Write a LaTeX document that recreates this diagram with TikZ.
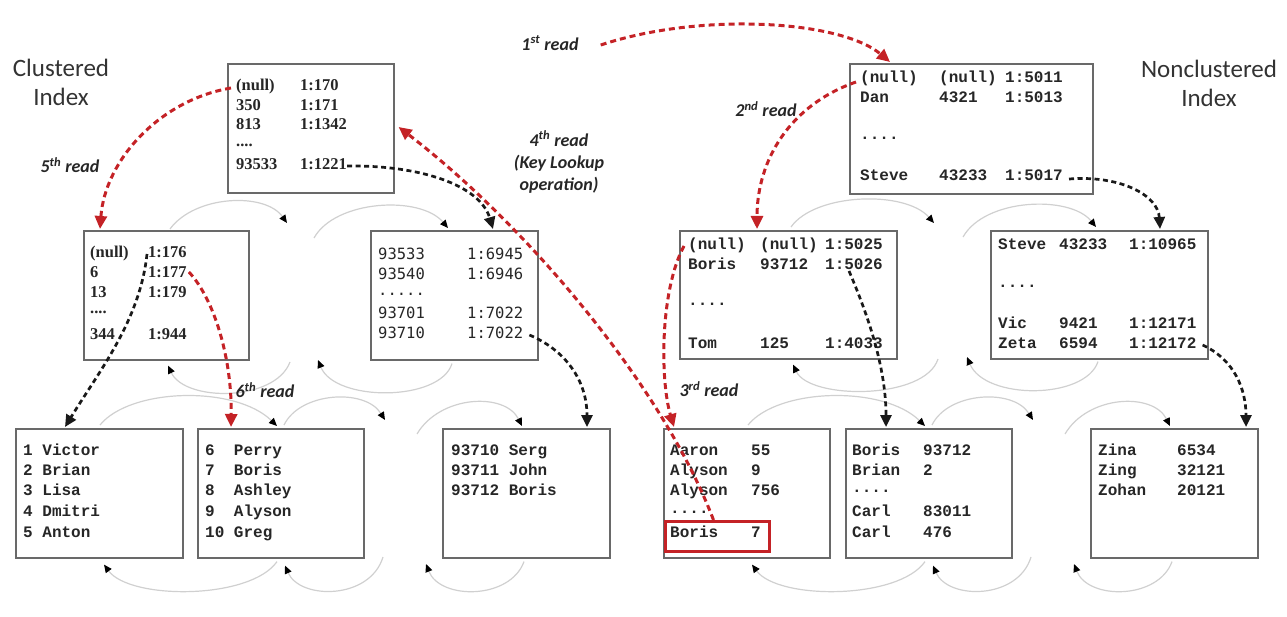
\documentclass[tikz,border=0pt]{standalone}
\usepackage{fontspec}
\setmainfont{Carlito}
\newfontfamily\cour{Liberation Mono}
\newfontfamily\serf{Liberation Serif}
\newfontfamily\dmono{DejaVu Sans Mono}
\usetikzlibrary{arrows.meta,calc}
\definecolor{rd}{RGB}{196,34,38}
\definecolor{bxc}{RGB}{105,105,105}
\definecolor{arcg}{RGB}{208,208,208}
\newcommand\cc[2]{\makebox[#1][l]{#2}}
\begin{document}
\begin{tikzpicture}[x=1pt,y=-1pt,
  box/.style={draw=bxc, line width=1.6pt, anchor=north west, inner sep=0pt},
  rowc/.style={anchor=west, inner sep=0pt, text height=0.7em, text depth=0pt,
    font=\cour\bfseries\fontsize{16}{18}\selectfont, text=black!85},
  rows/.style={rowc, font=\serf\bfseries\fontsize{16.5}{18}\selectfont},
  rowd/.style={rowc, font=\dmono\fontsize{15.5}{18}\selectfont, text=black!85},
  lbl/.style={font=\bfseries\itshape\fontsize{18}{20}\selectfont, text=black!85, inner sep=0pt},
  ttl/.style={font=\fontsize{25}{29}\selectfont, text=black!80, align=center, inner sep=0pt},
  rda/.style={draw=rd, line width=3pt, dash pattern=on 6pt off 4pt, -{Triangle[length=13pt,width=12pt]}},
  bka/.style={draw=black!90, line width=2.7pt, dash pattern=on 5pt off 3.5pt, -{Triangle[length=12pt,width=11pt]}},
  garc/.style={draw=arcg, line width=1.2pt, -{Triangle[length=8pt,width=7pt,color=black]}}
]
\useasboundingbox (0,0) rectangle (1287,617);

% ---------- boxes ----------
\node[box,minimum width=166pt,minimum height=129pt] (cr)  at (227,63) {};
\node[box,minimum width=165pt,minimum height=129pt] (cml) at (83,230) {};
\node[box,minimum width=167pt,minimum height=129pt] (cmr) at (370,230) {};
\node[box,minimum width=243pt,minimum height=130pt] (nr)  at (849,63) {};
\node[box,minimum width=217pt,minimum height=128pt] (nml) at (679,230) {};
\node[box,minimum width=217pt,minimum height=128pt] (nmr) at (990,230) {};
\node[box,minimum width=167pt,minimum height=129pt] (l1) at (15,428) {};
\node[box,minimum width=166pt,minimum height=129pt] (l2) at (197,428) {};
\node[box,minimum width=167pt,minimum height=129pt] (l3) at (442,428) {};
\node[box,minimum width=166pt,minimum height=129pt] (l4) at (663,428) {};
\node[box,minimum width=166pt,minimum height=129pt] (l5) at (845,428) {};
\node[box,minimum width=167pt,minimum height=129pt] (l6) at (1090,428) {};
\node[draw=rd, line width=3pt, anchor=north west, inner sep=0pt,
      minimum width=104pt, minimum height=30pt] (hl) at (664,520) {};

% ---------- gray sibling arcs ----------
% clustered leaves
\coordinate (g1) at (385,420);
\coordinate (g2) at (417,434);
\coordinate (g3) at (383,557);
\coordinate (g4) at (426,564);
\draw[garc] ($(l1.north west)+(85,-3)$) .. controls (130,388) and (235,385) .. ($(l2.north west)+(80,-2)$);
\draw[garc] ($(l2.north west)+(87,-3)$) .. controls (300,392) and (365,388) .. (g1);
\draw[garc] (g2) .. controls (440,395) and (505,392) .. ($(l3.north west)+(80,-2)$);
\draw[garc] ($(l2.south west)+(80,3)$) .. controls (250,600) and (130,600) .. ($(l1.south west)+(89,6)$);
\draw[garc] (g3) .. controls (370,600) and (300,600) .. ($(l2.south west)+(88,7)$);
\draw[garc] ($(l3.south west)+(82,3)$) .. controls (510,600) and (440,600) .. (g4);
% nonclustered leaves
\coordinate (h1) at (1033,420);
\coordinate (h2) at (1065,434);
\coordinate (h3) at (1031,557);
\coordinate (h4) at (1074,564);
\draw[garc] ($(l4.north west)+(85,-3)$) .. controls (778,388) and (883,385) .. ($(l5.north west)+(80,-2)$);
\draw[garc] ($(l5.north west)+(87,-3)$) .. controls (948,392) and (1013,388) .. (h1);
\draw[garc] (h2) .. controls (1088,395) and (1153,392) .. ($(l6.north west)+(80,-2)$);
\draw[garc] ($(l5.south west)+(80,3)$) .. controls (898,600) and (778,600) .. ($(l4.south west)+(89,6)$);
\draw[garc] (h3) .. controls (1018,600) and (948,600) .. ($(l5.south west)+(88,7)$);
\draw[garc] ($(l6.south west)+(82,3)$) .. controls (1158,600) and (1088,600) .. (h4);
% clustered middle level
\coordinate (m1) at (287,223);
\coordinate (m2) at (314,238);
\coordinate (m3) at (290,362);
\coordinate (m4) at (318,360);
\draw[garc] ($(cml.north west)+(87,-1)$) .. controls (195,195) and (265,192) .. (m1);
\draw[garc] (m2) .. controls (335,200) and (420,195) .. ($(cmr.north west)+(78,-2)$);
\draw[garc] (m3) .. controls (275,402) and (185,402) .. ($(cml.south west)+(85,5)$);
\draw[garc] ($(cmr.south west)+(82,3)$) .. controls (440,402) and (335,402) .. (m4);
% nonclustered middle level
\coordinate (n1) at (934,223);
\coordinate (n2) at (963,237);
\coordinate (n3) at (938,359);
\coordinate (n4) at (967,357);
\draw[garc] ($(nml.north west)+(112,-3)$) .. controls (815,193) and (905,190) .. (n1);
\draw[garc] (n2) .. controls (985,198) and (1070,195) .. ($(nmr.north west)+(106,-3)$);
\draw[garc] (n3) .. controls (925,400) and (810,400) .. ($(nml.south west)+(114,5)$);
\draw[garc] ($(nmr.south west)+(108,2)$) .. controls (1085,400) and (985,400) .. (n4);

% ---------- box texts ----------
\node[rows] (cr1) at (236,87)  {\cc{64pt}{(null)}1:170};
\node[rows] (cr2) at (236,107) {\cc{64pt}{350}1:171};
\node[rows] (cr3) at (236,126) {\cc{64pt}{813}1:1342};
\node[rows] (cr4) at (236,143) {....};
\node[rows] (cr5) at (236,166) {\cc{64pt}{93533}1:1221};

\node[rows] (cml1) at (90,254) {\cc{58pt}{(null)}1:176};
\node[rows] (cml2) at (90,274) {\cc{58pt}{6}1:177};
\node[rows] (cml3) at (90,294) {\cc{58pt}{13}1:179};
\node[rows] (cml4) at (90,310) {....};
\node[rows] (cml5) at (90,336) {\cc{58pt}{344}1:944};

\node[rowd] (cmr1) at (378,256) {\cc{89pt}{93533}1:6945};
\node[rowd] (cmr2) at (378,276) {\cc{89pt}{93540}1:6946};
\node[rowd] (cmr3) at (378,292) {.....};
\node[rowd] (cmr4) at (378,315) {\cc{89pt}{93701}1:7022};
\node[rowd] (cmr5) at (378,335) {\cc{89pt}{93710}1:7022};

\node[rowc] (nr1) at (860,79)  {\cc{79pt}{(null)}\cc{66pt}{(null)}1:5011};
\node[rowc] (nr2) at (860,99)  {\cc{79pt}{Dan}\cc{66pt}{4321}1:5013};
\node[rowc] (nr3) at (860,136) {....};
\node[rowc] (nr4) at (860,177) {\cc{79pt}{Steve}\cc{66pt}{43233}1:5017};

\node[rowc] (nml1) at (688,246) {\cc{72pt}{(null)}\cc{65pt}{(null)}1:5025};
\node[rowc] (nml2) at (688,266) {\cc{72pt}{Boris}\cc{65pt}{93712}1:5026};
\node[rowc] (nml3) at (688,302) {....};
\node[rowc] (nml4) at (688,345) {\cc{72pt}{Tom}\cc{65pt}{125}1:4033};

\node[rowc] (nmr1) at (998,246) {\cc{61pt}{Steve}\cc{70pt}{43233}1:10965};
\node[rowc] (nmr2) at (998,284) {....};
\node[rowc] (nmr3) at (998,325) {\cc{61pt}{Vic}\cc{70pt}{9421}1:12171};
\node[rowc] (nmr4) at (998,345) {\cc{61pt}{Zeta}\cc{70pt}{6594}1:12172};

\node[rowc] (l1a) at (23,452) {1 Victor};
\node[rowc] (l1b) at (23,472) {2 Brian};
\node[rowc] (l1c) at (23,492) {3 Lisa};
\node[rowc] (l1d) at (23,513) {4 Dmitri};
\node[rowc] (l1e) at (23,534) {5 Anton};

\node[rowc] (l2a) at (205,452) {\cc{28.8pt}{6}Perry};
\node[rowc] (l2b) at (205,472) {\cc{28.8pt}{7}Boris};
\node[rowc] (l2c) at (205,492) {\cc{28.8pt}{8}Ashley};
\node[rowc] (l2d) at (205,513) {\cc{28.8pt}{9}Alyson};
\node[rowc] (l2e) at (205,534) {\cc{28.8pt}{10}Greg};

\node[rowc] (l3a) at (451,452) {93710 Serg};
\node[rowc] (l3b) at (451,472) {93711 John};
\node[rowc] (l3c) at (451,492) {93712 Boris};

\node[rowc] (l4a) at (670,452) {\cc{81pt}{Aaron}55};
\node[rowc] (l4b) at (670,472) {\cc{81pt}{Alyson}9};
\node[rowc] (l4c) at (670,492) {\cc{81pt}{Alyson}756};
\node[rowc] (l4d) at (670,510) {....};
\node[rowc] (l4e) at (670,534) {\cc{81pt}{Boris}7};

\node[rowc] (l5a) at (852,452) {\cc{71pt}{Boris}93712};
\node[rowc] (l5b) at (852,472) {\cc{71pt}{Brian}2};
\node[rowc] (l5c) at (852,489) {....};
\node[rowc] (l5d) at (852,513) {\cc{71pt}{Carl}83011};
\node[rowc] (l5e) at (852,534) {\cc{71pt}{Carl}476};

\node[rowc] (l6a) at (1098,452) {\cc{79pt}{Zina}6534};
\node[rowc] (l6b) at (1098,472) {\cc{79pt}{Zing}32121};
\node[rowc] (l6c) at (1098,492) {\cc{79pt}{Zohan}20121};

% ---------- titles and labels ----------
\node[ttl] (tc) at (61,82)   {Clustered\\Index};
\node[ttl] (tn) at (1209,83) {Nonclustered\\Index};
\node[lbl] (r1) at (550,43)  {1\textsuperscript{st} read};
\node[lbl] (r2) at (766,109) {2\textsuperscript{nd} read};
\node[lbl, align=center, font=\bfseries\itshape\fontsize{18}{22}\selectfont] (r4) at (559,162) {4\textsuperscript{th} read\\(Key Lookup\\operation)};
\node[lbl] (r5) at (70,165)  {5\textsuperscript{th} read};
\node[lbl] (r6) at (265,390) {6\textsuperscript{th} read};
\node[lbl] (r3) at (709,389) {3\textsuperscript{rd} read};

% ---------- black dashed child pointers ----------
\draw[bka] (cr5.east) .. controls (420,165) and (480,185) .. ($(cmr.north west)+(123,-1)$);
\draw[bka] ($(cml1.west)+(57,0)$) .. controls (140,320) and (100,370) .. ($(l1.north west)+(50,-1)$);
\draw[bka] ($(cmr5.east)+(6,0)$) .. controls (565,350) and (587,380) .. ($(l3.north west)+(145,-1)$);
\draw[bka] ($(nr4.east)+(6,2)$) .. controls (1120,175) and (1158,195) .. ($(nmr.north west)+(170,-1)$);
\draw[bka] ($(nml2.east)+(-34,5)$) .. controls (870,320) and (886,370) .. ($(l5.north west)+(41,-1)$);
\draw[bka] ($(nmr4.east)+(6,0)$) .. controls (1235,360) and (1246,390) .. ($(l6.north west)+(156,-1)$);

% ---------- red dashed reads ----------
\draw[rda] ($(r1.east)+(22,2)$) .. controls (700,12) and (840,20) .. ($(nr.north west)+(41,-1)$);
\draw[rda] ($(nr1.west)+(-4,3)$) .. controls (790,105) and (757,160) .. ($(nml.north west)+(78,-1)$);
\draw[rda] ($(nml1.west)+(-4,0)$) .. controls (660,290) and (660,380) .. ($(l4.north west)+(11,-1)$);
\draw[rda] ($(hl.north)+(-4,0)$) .. controls (660,380) and (520,220) .. ($(cr.north east)+(4,64)$);
\draw[rda] ($(cr1.west)+(-5,1)$) .. controls (160,100) and (105,160) .. ($(cml.north west)+(17,-1)$);
\draw[rda] ($(cml2.east)+(2,-2)$) .. controls (215,300) and (232,360) .. ($(l2.north west)+(34,-1)$);
\end{tikzpicture}
\end{document}
